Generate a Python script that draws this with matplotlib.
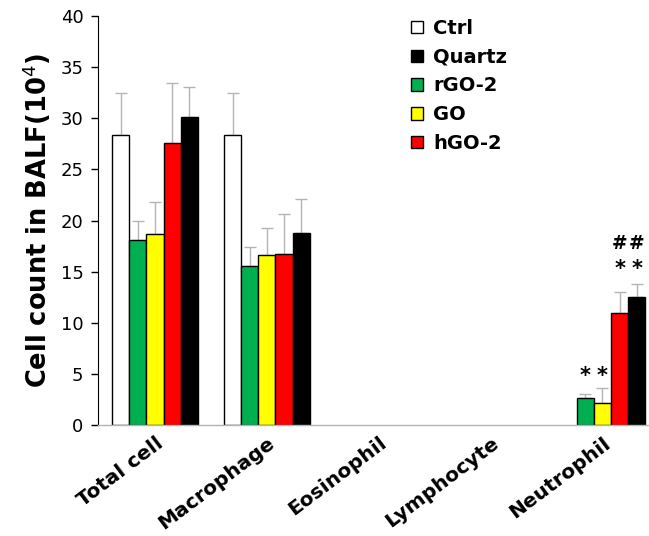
"""Cell counts in BALF per cell type, grouped bars with upper error bars."""
import numpy as np
import matplotlib
matplotlib.use("Agg")
import matplotlib.pyplot as plt
import matplotlib.transforms as mtransforms
from matplotlib.patches import Patch

plt.rcParams["font.family"] = ["DejaVu Sans"]

categories = ["Total cell", "Macrophage", "Eosinophil", "Lymphocyte", "Neutrophil"]
series = ["Ctrl", "rGO-2", "GO", "hGO-2", "Quartz"]
colors = ["#ffffff", "#00b050", "#ffff00", "#ff0000", "#000000"]

ctrl = [28.4, 28.4, 0, 0, 0]
rgo2 = [18.1, 15.6, 0, 0, 2.6]
go = [18.7, 16.6, 0, 0, 2.2]
hgo2 = [27.6, 16.7, 0, 0, 11.0]
quartz = [30.1, 18.8, 0, 0, 12.5]

ctrl_err = [4.1, 4.1, 0, 0, 0]
rgo2_err = [1.85, 1.85, 0, 0, 0.45]
go_err = [3.1, 2.7, 0, 0, 1.4]
hgo2_err = [5.9, 3.95, 0, 0, 2.0]
quartz_err = [3.0, 3.35, 0, 0, 1.25]

values = [ctrl, rgo2, go, hgo2, quartz]
errors = [ctrl_err, rgo2_err, go_err, hgo2_err, quartz_err]

# significance marks on the neutrophil group: (category, series, text, y)
marks = [
    ("Neutrophil", "rGO-2", "*", 4.8),
    ("Neutrophil", "GO", "*", 4.8),
    ("Neutrophil", "hGO-2", "*", 15.25),
    ("Neutrophil", "Quartz", "*", 15.25),
    ("Neutrophil", "hGO-2", "#", 17.8),
    ("Neutrophil", "Quartz", "#", 17.8),
]

fig = plt.figure(figsize=(6.49, 5.36), dpi=100)
ax = fig.add_axes([0.151, 0.207, 0.848, 0.763])

x = np.arange(len(categories))
w = 0.153
for i, (name, col) in enumerate(zip(series, colors)):
    v = np.array(values[i], dtype=float)
    e = np.array(errors[i], dtype=float)
    pos = x + (i - 2) * w
    m = v > 0
    ax.bar(pos[m], v[m], width=w, color=col, edgecolor="black", linewidth=1.0, zorder=2)
    ax.errorbar(pos[m], v[m], yerr=[np.zeros(m.sum()), e[m]], fmt="none",
                ecolor="#b4b4b4", elinewidth=1.0, capsize=4, capthick=1.0, zorder=1)

for cat, ser, txt, y in marks:
    xp = categories.index(cat) + (series.index(ser) - 2) * w
    fs = 15 if txt == "*" else 13.5
    ax.text(xp, y, txt, ha="center", va="center", fontsize=fs, fontweight="bold")

ax.set_xlim(-0.51, 4.41)
ax.set_ylim(0, 40)
ax.set_yticks(np.arange(0, 41, 5))
ax.set_xticks(x)
ax.set_xticklabels(categories, rotation=37, ha="right", rotation_mode="anchor",
                   fontsize=14.5, fontweight="bold")
shift = mtransforms.ScaledTranslation(0.12, -0.02, fig.dpi_scale_trans)
for lab in ax.get_xticklabels():
    lab.set_transform(lab.get_transform() + shift)
ax.tick_params(axis="x", length=0, pad=6)
ax.tick_params(axis="y", direction="out", length=5, width=1, labelsize=13, pad=5.5)

for s in ["top", "right"]:
    ax.spines[s].set_visible(False)
ax.spines["left"].set_color("black")
ax.spines["bottom"].set_color("#b4b4b4")
ax.spines["bottom"].set_linewidth(1.0)

ax.set_ylabel("Cell count in BALF(10$^4$)", fontsize=18.5, fontweight="bold", labelpad=5)

order = ["Ctrl", "Quartz", "rGO-2", "GO", "hGO-2"]
handles = [Patch(facecolor=colors[series.index(n)], edgecolor="black", linewidth=1.0, label=n)
           for n in order]
fig.legend(handles=handles, loc="upper left", bbox_to_anchor=(411 / 649, 1 - 19 / 536),
           frameon=False, prop={"size": 14, "weight": "bold"}, handlelength=0.62,
           handleheight=0.62, handletextpad=0.52, labelspacing=0.5, borderpad=0,
           borderaxespad=0)

fig.savefig("out.png", dpi=100)
